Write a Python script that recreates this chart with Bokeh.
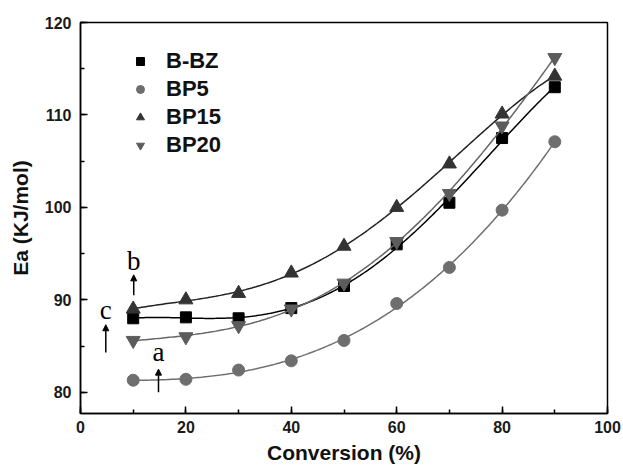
import numpy as np
from bokeh.plotting import figure
from bokeh.models import (Range1d, FixedTicker, Legend, LegendItem, Arrow,
                          NormalHead, Label)
from bokeh.embed import file_html
from bokeh.resources import INLINE

# Conversion levels (%) and apparent activation energies (kJ/mol)
conversion = [10, 20, 30, 40, 50, 60, 70, 80, 90]
ea_bbz = [88.0, 88.1, 88.0, 89.1, 91.5, 96.0, 100.5, 107.5, 113.0]
ea_bp5 = [81.3, 81.4, 82.4, 83.4, 85.6, 89.6, 93.5, 99.7, 107.1]
ea_bp15 = [89.0, 90.0, 90.7, 92.9, 95.8, 100.0, 104.7, 110.1, 114.2]
ea_bp20 = [85.6, 86.0, 87.2, 89.0, 91.8, 96.3, 101.5, 108.8, 116.2]

series_names = ["B-BZ", "BP5", "BP15", "BP20"]
x_ticks = [0, 20, 40, 60, 80, 100]
y_ticks = [80, 90, 100, 110, 120]

p = figure(width=623, height=468, output_backend="svg", toolbar_location=None,
           x_range=Range1d(0, 100), y_range=Range1d(77.7, 120),
           min_border_left=80, min_border_right=16, min_border_top=22,
           min_border_bottom=55)
p.grid.visible = False
p.outline_line_color = "black"
p.outline_line_width = 1.5
p.background_fill_color = "white"
p.border_fill_color = "white"

for ax, ticks in ((p.xaxis[0], x_ticks), (p.yaxis[0], y_ticks)):
    ax.ticker = FixedTicker(ticks=ticks,
                            minor_ticks=list(np.arange(ticks[0], ticks[-1] + 0.1,
                                                       (ticks[1] - ticks[0]) / 2)))
    ax.axis_line_width = 1.5
    ax.major_tick_in = 7
    ax.major_tick_out = 0
    ax.minor_tick_in = 4
    ax.minor_tick_out = 0
    ax.major_tick_line_width = 1.5
    ax.minor_tick_line_width = 1.5
    ax.major_label_text_font = "Liberation Sans"
    ax.major_label_text_font_style = "bold"
    ax.major_label_text_font_size = "16px"
    ax.major_label_text_color = "#1a1a1a"
    ax.axis_label_text_font = "Liberation Sans"
    ax.axis_label_text_font_style = "bold"
    ax.axis_label_text_font_size = "21px"
    ax.axis_label_text_color = "#111111"

p.xaxis.axis_label = "Conversion (%)"
p.yaxis.axis_label = "Ea (KJ/mol)"
p.xaxis.major_label_standoff = 7
p.xaxis.axis_label_standoff = 5
p.yaxis.major_label_standoff = 9
p.yaxis.axis_label_standoff = 10

styles = [
    (ea_bbz, "square", 11, "#000000", "#000000"),
    (ea_bp5, "circle", 12, "#6e6e6e", "#6e6e6e"),
    (ea_bp15, "triangle", 14, "#333333", "#222222"),
    (ea_bp20, "inverted_triangle", 14, "#5c5c5c", "#666666"),
]

xs_fit = np.linspace(conversion[0], conversion[-1], 200)
items = []
for name, (vals, marker, size, mcol, lcol) in zip(series_names, styles):
    # smooth polynomial fit through each series
    coef = np.polyfit(conversion, vals, 4)
    p.line(xs_fit, np.polyval(coef, xs_fit), line_color=lcol, line_width=1.5)
    r = p.scatter(conversion, vals, marker=marker, size=size,
                  fill_color=mcol, line_color=mcol)
    items.append(LegendItem(label=name, renderers=[r]))

legend = Legend(items=items, location=(50, 255), padding=0, spacing=2,
                glyph_width=20, glyph_height=24, label_height=24,
                label_standoff=16, border_line_color=None,
                background_fill_alpha=0,
                label_text_font="Liberation Sans", label_text_font_style="bold",
                label_text_font_size="22px", label_text_color="#111111")
p.add_layout(legend, "center")

# curve labels with arrows
for txt, x, ty, y0, y1 in (("b", 10.1, 94.2, 90.5, 92.7),
                          ("c", 4.8, 88.9, 84.3, 87.3),
                          ("a", 14.8, 84.3, 80.0, 82.5)):
    p.add_layout(Arrow(end=NormalHead(size=6, fill_color="black", line_color="black"),
                       x_start=x, y_start=y0, x_end=x, y_end=y1,
                       line_color="black", line_width=1.5))
    p.add_layout(Label(x=x, y=ty, text=txt, text_align="center",
                       text_baseline="middle", text_font="Liberation Serif",
                       text_font_size="27px", text_color="black"))

open("out.html", "w").write(file_html(p, INLINE))
